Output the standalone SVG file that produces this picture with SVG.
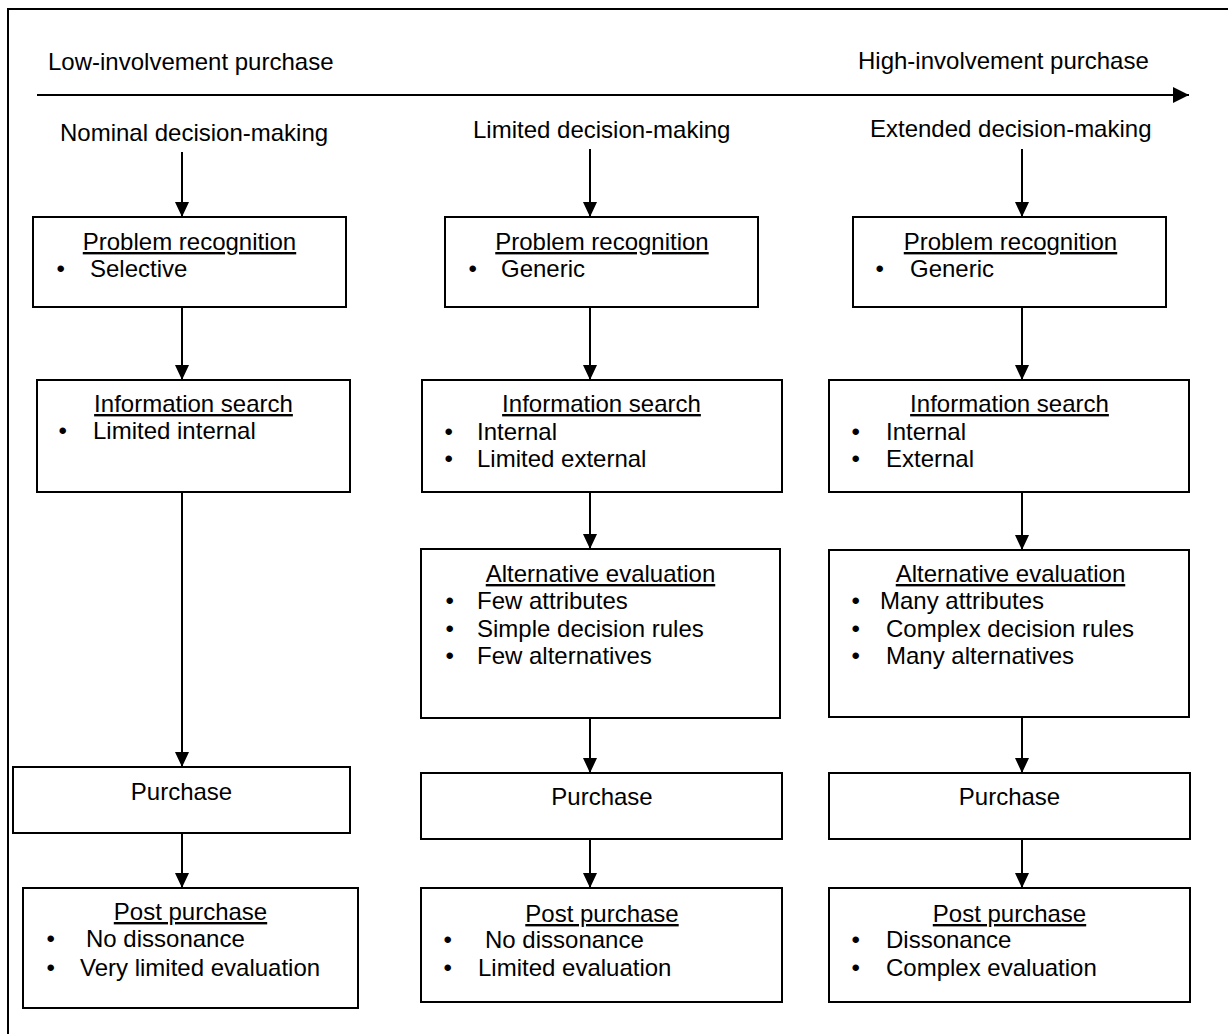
<svg xmlns="http://www.w3.org/2000/svg" width="1228" height="1034" viewBox="0 0 1228 1034">
<style>
text{font-family:"Liberation Sans",Arial,sans-serif;font-size:24px;fill:#000}
.h{text-anchor:middle;text-decoration:underline}
.c{text-anchor:middle}
.box{fill:#fff;stroke:#000;stroke-width:2}
.con{stroke:#000;stroke-width:2;fill:none}
</style>
<defs>
<marker id="ah" markerUnits="userSpaceOnUse" markerWidth="16" markerHeight="16" refX="15" refY="7" orient="auto">
<path d="M0,0 L15,7 L0,14 z" fill="#000"/>
</marker>
<marker id="ahb" markerUnits="userSpaceOnUse" markerWidth="18" markerHeight="18" refX="16" refY="8" orient="auto">
<path d="M0,0 L16,8 L0,16 z" fill="#000"/>
</marker>
</defs>
<rect x="0" y="0" width="1228" height="1034" fill="#fff"/>
<rect x="8" y="9" width="1240" height="1040" fill="none" stroke="#000" stroke-width="2"/>

<g id="axis">
<text x="48" y="70">Low-involvement purchase</text>
<text x="858" y="69">High-involvement purchase</text>
<line class="con" x1="37" y1="95" x2="1189" y2="95" marker-end="url(#ahb)"/>
<text x="60" y="141">Nominal decision-making</text>
<text x="473" y="138">Limited decision-making</text>
<text x="870" y="137">Extended decision-making</text>
</g>

<g id="connectors">
<line class="con" x1="182" y1="152" x2="182" y2="217" marker-end="url(#ah)"/>
<line class="con" x1="182" y1="307" x2="182" y2="380" marker-end="url(#ah)"/>
<line class="con" x1="182" y1="492" x2="182" y2="767" marker-end="url(#ah)"/>
<line class="con" x1="182" y1="833" x2="182" y2="888" marker-end="url(#ah)"/>

<line class="con" x1="590" y1="149" x2="590" y2="217" marker-end="url(#ah)"/>
<line class="con" x1="590" y1="307" x2="590" y2="380" marker-end="url(#ah)"/>
<line class="con" x1="590" y1="492" x2="590" y2="549" marker-end="url(#ah)"/>
<line class="con" x1="590" y1="718" x2="590" y2="773" marker-end="url(#ah)"/>
<line class="con" x1="590" y1="839" x2="590" y2="888" marker-end="url(#ah)"/>

<line class="con" x1="1022" y1="149" x2="1022" y2="217" marker-end="url(#ah)"/>
<line class="con" x1="1022" y1="307" x2="1022" y2="380" marker-end="url(#ah)"/>
<line class="con" x1="1022" y1="492" x2="1022" y2="550" marker-end="url(#ah)"/>
<line class="con" x1="1022" y1="717" x2="1022" y2="773" marker-end="url(#ah)"/>
<line class="con" x1="1022" y1="839" x2="1022" y2="888" marker-end="url(#ah)"/>
</g>

<!-- Column 1 -->
<g id="n1-pr">
<rect class="box" x="33" y="217" width="313" height="90"/>
<text class="h" x="189.5" y="250">Problem recognition</text>
<text x="56.5" y="277">•</text><text x="90" y="277">Selective</text>
</g>
<g id="n1-is">
<rect class="box" x="37" y="380" width="313" height="112"/>
<text class="h" x="193.5" y="412">Information search</text>
<text x="58.5" y="439">•</text><text x="93" y="439">Limited internal</text>
</g>
<g id="n1-pu">
<rect class="box" x="13" y="767" width="337" height="66"/>
<text class="c" x="181.5" y="800">Purchase</text>
</g>
<g id="n1-pp">
<rect class="box" x="23" y="888" width="335" height="120"/>
<text class="h" x="190.5" y="920">Post purchase</text>
<text x="46.5" y="947">•</text><text x="86" y="947">No dissonance</text>
<text x="46.5" y="976">•</text><text x="80" y="976">Very limited evaluation</text>
</g>

<!-- Column 2 -->
<g id="n2-pr">
<rect class="box" x="445" y="217" width="313" height="90"/>
<text class="h" x="602" y="250">Problem recognition</text>
<text x="468.5" y="277">•</text><text x="501" y="277">Generic</text>
</g>
<g id="n2-is">
<rect class="box" x="422" y="380" width="360" height="112"/>
<text class="h" x="601.5" y="412">Information search</text>
<text x="444.5" y="440">•</text><text x="477" y="440">Internal</text>
<text x="444.5" y="467">•</text><text x="477" y="467">Limited external</text>
</g>
<g id="n2-ae">
<rect class="box" x="421" y="549" width="359" height="169"/>
<text class="h" x="600.5" y="582">Alternative evaluation</text>
<text x="445.5" y="609">•</text><text x="477" y="609">Few attributes</text>
<text x="445.5" y="637">•</text><text x="477" y="637">Simple decision rules</text>
<text x="445.5" y="664">•</text><text x="477" y="664">Few alternatives</text>
</g>
<g id="n2-pu">
<rect class="box" x="421" y="773" width="361" height="66"/>
<text class="c" x="602" y="805">Purchase</text>
</g>
<g id="n2-pp">
<rect class="box" x="421" y="888" width="361" height="114"/>
<text class="h" x="602" y="922">Post purchase</text>
<text x="443.5" y="948">•</text><text x="485" y="948">No dissonance</text>
<text x="443.5" y="976">•</text><text x="478" y="976">Limited evaluation</text>
</g>

<!-- Column 3 -->
<g id="n3-pr">
<rect class="box" x="853" y="217" width="313" height="90"/>
<text class="h" x="1010.5" y="250">Problem recognition</text>
<text x="875.5" y="277">•</text><text x="910" y="277">Generic</text>
</g>
<g id="n3-is">
<rect class="box" x="829" y="380" width="360" height="112"/>
<text class="h" x="1009.5" y="412">Information search</text>
<text x="851.5" y="440">•</text><text x="886" y="440">Internal</text>
<text x="851.5" y="467">•</text><text x="886" y="467">External</text>
</g>
<g id="n3-ae">
<rect class="box" x="829" y="550" width="360" height="167"/>
<text class="h" x="1010.5" y="582">Alternative evaluation</text>
<text x="851.5" y="609">•</text><text x="880" y="609">Many attributes</text>
<text x="851.5" y="637">•</text><text x="886" y="637">Complex decision rules</text>
<text x="851.5" y="664">•</text><text x="886" y="664">Many alternatives</text>
</g>
<g id="n3-pu">
<rect class="box" x="829" y="773" width="361" height="66"/>
<text class="c" x="1009.5" y="805">Purchase</text>
</g>
<g id="n3-pp">
<rect class="box" x="829" y="888" width="361" height="114"/>
<text class="h" x="1009.5" y="922">Post purchase</text>
<text x="851.5" y="948">•</text><text x="886" y="948">Dissonance</text>
<text x="851.5" y="976">•</text><text x="886" y="976">Complex evaluation</text>
</g>
</svg>
